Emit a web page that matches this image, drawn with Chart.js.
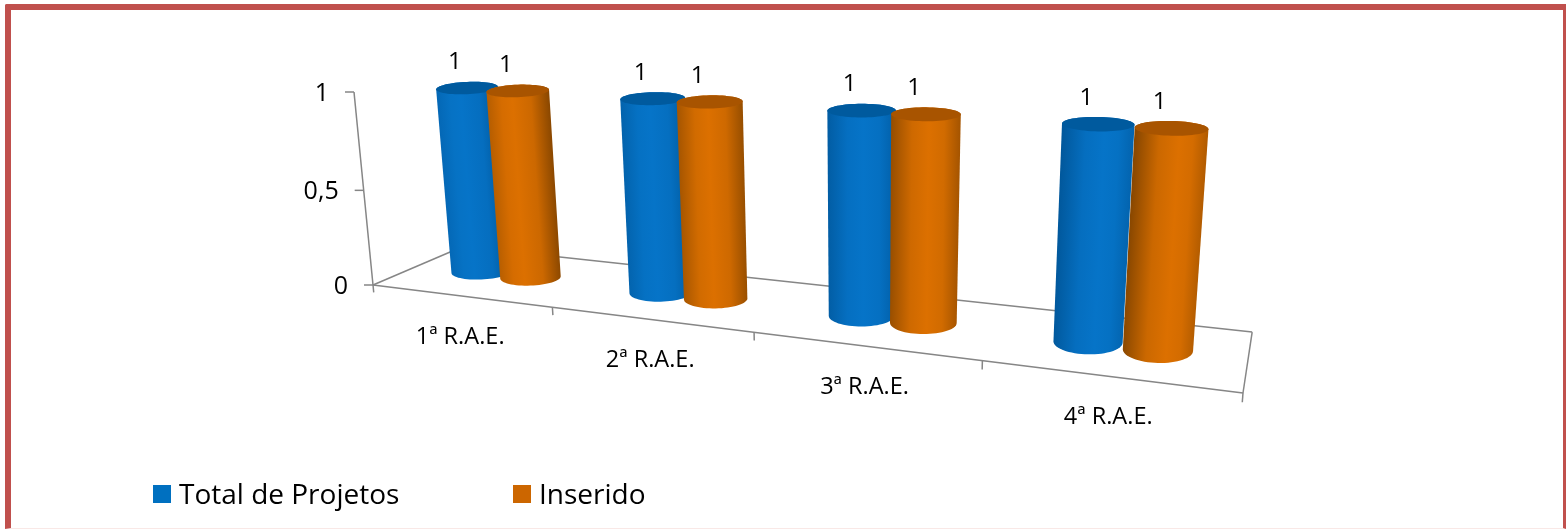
<!DOCTYPE html>
<html lang="pt"><head><meta charset="utf-8">
<style>
html,body{margin:0;padding:0;background:#fff;width:1566px;height:529px;overflow:hidden}
#frame{position:absolute;left:5px;top:4px;width:1561px;height:525px;box-sizing:border-box;border:solid #C0504D;border-width:6px 3px 1px 6px;border-bottom-color:#f9e8e6;border-top-left-radius:2px}
canvas{position:absolute;left:0;top:0}
</style>
<script src="https://cdn.jsdelivr.net/npm/chart.js@4/dist/chart.umd.min.js"></script>
</head><body><div id="frame"></div><canvas id="c" width="1566" height="529"></canvas>
<script>
const categories = ['1ª R.A.E.','2ª R.A.E.','3ª R.A.E.','4ª R.A.E.'];
const totalProjetos = [1,1,1,1];
const inserido = [1,1,1,1];
const seriesNames = ['Total de Projetos','Inserido'];
const seriesColors = ['#0070C0','#CC6600'];

const FONT = '"Open Sans", sans-serif';
// perspective of the 3-D box: corner positions and homogeneous weights
const O=[373,285], U=[1243,393], V=[463,246.5], W=[354,92];
const wa=-0.2206, wb=0.105, wc=-0.0375;
const coef=(P,w)=>[P[0]*(1+w)-O[0],P[1]*(1+w)-O[1]];
const Au=coef(U,wa), Av=coef(V,wb), Aw=coef(W,wc);
function project(u,v,w){
  const d=1+wa*u+wb*v+wc*w;
  return [(O[0]+Au[0]*u+Av[0]*v+Aw[0]*w)/d,(O[1]+Au[1]*u+Av[1]*v+Aw[1]*w)/d];
}
function hull(pts){
  pts=pts.slice().sort((a,b)=>a[0]-b[0]||a[1]-b[1]);
  const cr=(o,a,b)=>(a[0]-o[0])*(b[1]-o[1])-(a[1]-o[1])*(b[0]-o[0]);
  const lo=[],up=[];
  for(const p of pts){while(lo.length>1&&cr(lo[lo.length-2],lo[lo.length-1],p)<=0)lo.pop();lo.push(p);}
  for(const p of pts.slice().reverse()){while(up.length>1&&cr(up[up.length-2],up[up.length-1],p)<=0)up.pop();up.push(p);}
  return lo.slice(0,-1).concat(up.slice(0,-1));
}
function poly(ctx,pts){ctx.beginPath();pts.forEach((p,i)=>i?ctx.lineTo(p[0],p[1]):ctx.moveTo(p[0],p[1]));ctx.closePath();}
function line(ctx,a,b){ctx.beginPath();ctx.moveTo(a[0],a[1]);ctx.lineTo(b[0],b[1]);ctx.stroke();}
const mix=(a,b,t)=>'rgb('+a.map((c,i)=>Math.round(c+(b[i]-c)*t)).join(',')+')';
const shades=[
  {dark:[0,84,150],mid:[6,116,200],top:[0,90,158]},
  {dark:[130,68,0],mid:[220,112,0],top:[168,84,0]}
];
const DEPTH=0.5, NUDGE=1.5;
function ellipse(c,R,H,tilt){
  const pts=[];
  for(let k=0;k<64;k++){
    const a=k/64*Math.PI*2;
    pts.push([c[0]+R*Math.cos(a),c[1]+tilt*R*Math.cos(a)+H*Math.sin(a)]);
  }
  return pts;
}

const box3d={
  id:'box3d',
  afterDatasetsDraw(chart){
    const ctx=chart.ctx,x=chart.scales.x,y=chart.scales.y,n=categories.length;
    ctx.save();
    ctx.strokeStyle='#868686';ctx.lineWidth=1.5;
    // floor
    line(ctx,project(0,0,0),project(1,0,0));
    line(ctx,project(0,1,0),project(1,1,0));
    line(ctx,project(0,0,0),project(0,1,0));
    line(ctx,project(1,0,0),project(1,1,0));
    // value axis
    line(ctx,project(0,0,0),project(0,0,1));
    ctx.fillStyle='#000';ctx.textBaseline='middle';
    ctx.font='25px '+FONT;ctx.textAlign='right';
    for(const t of y.ticks){
      const w=(y.bottom-y.getPixelForValue(t.value))/y.height,p=project(0,0,w);
      line(ctx,p,[p[0]-9,p[1]]);
      ctx.fillText(t.label,p[0]-25,p[1]+2);
    }
    // category axis
    for(let i=0;i<=n;i++){
      const u=i/n;line(ctx,project(u,0,0),project(u,0,-0.04));
    }
    ctx.font='23.5px '+FONT;ctx.textAlign='center';
    x.ticks.forEach((t,i)=>{
      const u=(x.getPixelForTick(i)-x.left)/x.width,p=project(u,0,0);
      ctx.fillText(t.label,p[0],p[1]+41);
    });
    // cylinders
    const labels=[];
    const metas=chart.data.datasets.map((d,i)=>chart.getDatasetMeta(i));
    for(let c=0;c<n;c++){
      metas.forEach((meta,s)=>{
        const el=meta.data[c],u=(el.x-x.left)/x.width,w=(el.base-el.y)/y.height;
        const ru=el.width/2*(1.26-0.3*u)/x.width;
        const b=project(u,DEPTH,0),t=project(u,DEPTH,w);
        t[1]+=3.5;t[0]+=NUDGE;b[0]+=NUDGE;
        const Rb=(project(u+ru,DEPTH,0)[0]-project(u-ru,DEPTH,0)[0])/2;
        const Rt=(project(u+ru,DEPTH,w)[0]-project(u-ru,DEPTH,w)[0])/2;
        const tilt=-0.05+0.08*u;
        const bot=ellipse(b,Rb,(0.25+0.13*u)*Rb,tilt), top=ellipse(t,Rt,0.2*Rt,tilt);
        const len=Math.hypot(t[0]-b[0],t[1]-b[1]),nx=-(t[1]-b[1])/len,ny=(t[0]-b[0])/len;
        const m=[(t[0]+b[0])/2,(t[1]+b[1])/2],half=(Rt+Rb)/2;
        const g=ctx.createLinearGradient(m[0]-nx*half,m[1]-ny*half,m[0]+nx*half,m[1]+ny*half);
        const sh=shades[s],hi=0.36+0.28*u;
        const L=0.7-0.7*u, Rr=0.6*u;
        g.addColorStop(0,mix(sh.dark,sh.mid,L));
        g.addColorStop(hi*0.55,mix(sh.dark,sh.mid,L+(1-L)*0.8));
        g.addColorStop(hi,mix(sh.mid,sh.mid,0));
        g.addColorStop(hi+(1-hi)*0.5,mix(sh.dark,sh.mid,Rr+(1-Rr)*0.8));
        g.addColorStop(1,mix(sh.dark,sh.mid,Rr));
        ctx.fillStyle=g;poly(ctx,hull(bot.concat(top)));ctx.fill();
        ctx.fillStyle=mix(sh.top,sh.top,0);poly(ctx,top);ctx.fill();
        labels.push([chart.data.datasets[s].data[c],t]);
      });
    }
    // value labels
    ctx.fillStyle='#000';ctx.font='24px '+FONT;ctx.textAlign='center';
    for(const [v,t] of labels) ctx.fillText(String(v),t[0]-12,t[1]-26);
    // legend
    const legendX=[153,513];
    ctx.textAlign='left';ctx.font='28px '+FONT;
    chart.data.datasets.forEach((d,i)=>{
      ctx.fillStyle=d.legendColor;ctx.fillRect(legendX[i],485,18,18);
      ctx.fillStyle='#000';ctx.fillText(d.label,legendX[i]+26,496);
    });
    ctx.restore();
  }
};

new Chart(document.getElementById('c'),{
  type:'bar',
  data:{labels:categories,datasets:[
    {label:seriesNames[0],data:totalProjetos,backgroundColor:'transparent',legendColor:seriesColors[0]},
    {label:seriesNames[1],data:inserido,backgroundColor:'transparent',legendColor:seriesColors[1]}
  ]},
  options:{
    responsive:false,animation:false,devicePixelRatio:1,
    layout:{padding:{left:373,right:323,top:92,bottom:244}},
    datasets:{bar:{categoryPercentage:0.57,barPercentage:1}},
    plugins:{legend:{display:false},tooltip:{enabled:false}},
    scales:{
      x:{display:false},
      y:{display:false,min:0,max:1,ticks:{stepSize:0.5,callback:v=>String(v).replace('.',',')}}
    }
  },
  plugins:[box3d]
});
</script></body></html>
